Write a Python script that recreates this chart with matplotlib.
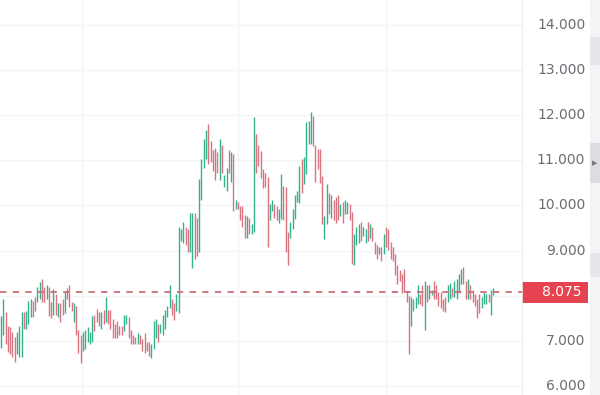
import matplotlib
matplotlib.use("Agg")
import matplotlib.pyplot as plt
from matplotlib.patches import Rectangle

# candle opens / closes (left to right)
opens = [
    6.87, 7.17, 7.60, 7.30, 7.28, 7.17, 7.06, 6.73, 6.68, 6.68,
    7.61, 7.30, 7.40, 7.55, 7.85, 7.95, 7.90, 7.95, 8.35, 8.17,
    7.95, 8.17, 7.84, 7.60, 8.00, 7.55, 7.80, 7.90, 7.65, 8.15,
    8.20, 7.84, 7.45, 7.75, 7.20, 7.10, 6.80, 6.85, 7.00,
    6.95, 7.00, 7.55, 7.68, 7.60, 7.30, 7.65, 7.45, 7.65, 7.65,
    7.45, 7.35, 7.40, 7.30, 7.30, 7.25, 7.40, 7.50, 7.20, 7.10,
    7.05, 6.95, 7.10, 7.00, 7.15, 6.95, 6.95, 6.65, 6.85, 7.10,
    7.35, 7.20, 7.15, 7.30, 7.55, 7.75, 7.90, 7.80,
    7.70, 7.65, 9.25, 9.20, 9.50, 9.45, 9.00, 8.65, 9.80, 9.70,
    9.00, 10.15, 10.85, 11.05, 11.78, 11.40, 11.20, 11.25, 11.15, 10.60,
    11.30, 10.45, 10.35, 11.20, 10.55, 11.10, 9.95, 10.05, 9.95, 9.95,
    9.75, 9.30, 9.70, 9.40, 9.45, 11.56,
    11.30, 11.18, 10.78, 10.70, 10.61, 9.70, 9.90, 10.00, 9.95, 9.65,
    9.74, 10.40, 10.39, 9.39, 9.30, 9.50, 9.74, 10.10, 10.08, 11.00,
    10.50, 10.72, 11.40, 11.40, 11.95, 11.30, 11.23, 11.23, 10.63, 9.28,
    9.61, 10.25, 9.75, 10.10, 10.15,
    10.20, 9.80, 10.05, 9.85, 9.85, 10.00, 9.83, 8.72, 9.15, 9.20,
    9.60, 9.35, 9.20, 9.60, 9.30, 9.50, 9.15, 9.10, 8.95, 9.05,
    8.95, 9.50, 9.45, 9.15, 9.05, 8.90, 8.65, 8.55, 8.45, 8.57,
    8.08, 7.97, 7.35, 7.70, 7.75,
    7.85, 8.00, 8.20, 7.28, 8.20, 7.95, 8.05, 8.30, 8.20, 8.05,
    8.05, 7.90, 7.95, 7.90, 7.95, 8.15, 8.00, 7.95, 8.10, 8.28,
    8.61, 8.30, 7.95, 8.20, 8.10, 8.00, 7.90, 8.00, 7.75, 7.85,
    7.85, 8.00, 7.61, 8.05,
]
closes = [
    7.53, 7.90, 6.97, 6.79, 6.73, 6.68, 6.57, 7.17, 7.30, 7.61,
    7.30, 7.63, 7.85, 7.90, 7.55, 7.70, 8.17, 8.28, 7.90, 7.90,
    8.20, 7.57, 7.53, 8.12, 7.60, 7.80, 7.45, 7.60, 8.05, 7.95,
    7.79, 7.70, 7.80, 7.17, 6.75, 6.53, 7.17, 7.20, 7.28,
    7.17, 7.53, 7.25, 7.45, 7.35, 7.60, 7.40, 7.95, 7.40, 7.30,
    7.10, 7.10, 7.10, 7.15, 7.15, 7.55, 7.55, 7.10, 6.95, 6.95,
    6.95, 7.15, 6.95, 6.80, 6.75, 6.80, 6.70, 6.90, 7.40, 7.45,
    7.00, 7.35, 7.55, 7.65, 7.75, 8.20, 7.60, 7.50,
    8.00, 9.50, 9.45, 9.60, 9.15, 9.00, 9.80, 9.80, 8.85, 8.90,
    10.55, 11.00, 11.45, 11.65, 10.95, 11.00, 10.80, 10.60, 10.75, 11.45,
    10.75, 10.65, 10.80, 10.75, 11.15, 9.90, 10.10, 9.95, 9.70, 9.55,
    9.30, 9.74, 9.40, 9.55, 11.94, 10.74,
    10.90, 10.63, 10.41, 10.45, 9.12, 10.00, 10.10, 9.75, 9.70, 9.90,
    10.67, 9.70, 9.00, 8.72, 9.60, 9.90, 10.20, 10.30, 10.85, 10.30,
    11.05, 11.83, 11.85, 12.05, 11.35, 10.55, 10.83, 10.52, 9.63, 9.74,
    10.45, 9.85, 10.20, 9.70, 9.65,
    9.70, 10.00, 9.65, 10.10, 10.05, 9.70, 8.74, 9.34, 9.50, 9.55,
    9.25, 9.50, 9.45, 9.25, 9.55, 9.25, 8.95, 8.85, 9.05, 8.80,
    9.34, 9.10, 9.05, 8.85, 8.80, 8.50, 8.30, 8.35, 8.10, 8.12,
    7.90, 6.73, 7.95, 7.90, 7.95,
    8.20, 7.85, 7.80, 8.30, 7.90, 8.20, 8.10, 7.95, 7.95, 7.80,
    7.75, 7.70, 7.68, 8.20, 8.25, 8.00, 8.30, 8.35, 8.45, 8.57,
    8.30, 7.95, 8.35, 7.95, 7.90, 7.80, 7.53, 7.65, 7.95, 8.05,
    8.00, 7.90, 8.10, 8.15,
]
last_price = 8.075
y_ticks = [6, 7, 8, 9, 10, 11, 12, 13, 14]
y_labels = ["6.000", "7.000", "", "9.000", "10.000", "11.000", "12.000", "13.000", "14.000"]

UP = "#34b28e"
DOWN = "#d8737f"

fig = plt.figure(figsize=(6, 3.95), dpi=100)
fig.patch.set_facecolor("white")
ax = fig.add_axes([0, 0, 522 / 600, 1])
ax.set_xlim(-0.45, 228.7)
ax.set_ylim(5.80, 14.554)

for spine in ax.spines.values():
    spine.set_visible(False)
ax.set_xticks([35.5, 104.0, 169.0])
ax.set_xticklabels([])
ax.set_yticks(y_ticks)
ax.set_yticklabels([])
ax.tick_params(length=0)
ax.grid(True, color="#f3f4f6", linewidth=1.0)
ax.set_axisbelow(True)

for i, (o, c) in enumerate(zip(opens, closes)):
    col = UP if c >= o else DOWN
    ax.vlines(i, min(o, c) - 0.03, max(o, c) + 0.03, color=col, linewidth=1.0)

ax.axhline(last_price, color="#c9707a", linewidth=1.3, dashes=(3.5, 3.5))

# right price scale
sax = fig.add_axes([522 / 600, 0, 68 / 600, 1], sharey=ax)
sax.set_xlim(0, 1)
sax.axis("off")
sax.axvline(0, color="#e8e9ec", linewidth=1.2)
for v, lab in zip(y_ticks, y_labels):
    if lab:
        sax.text(0.93, v, lab, ha="right", va="center", fontsize=10,
                 color="#6a6d72", family="DejaVu Sans")
sax.add_patch(Rectangle((0.0, last_price - 0.24), 0.97, 0.48,
                        facecolor="#e5434f", edgecolor="none"))
sax.text(0.88, last_price, "8.075", ha="right", va="center", fontsize=10,
         color="white", family="DejaVu Sans")

# thin grey strip at the far right with a collapse tab
tax = fig.add_axes([590 / 600, 0, 10 / 600, 1])
tax.set_xlim(0, 1)
tax.set_ylim(0, 395)
tax.axis("off")
tax.add_patch(Rectangle((0, 0), 1, 395, facecolor="#f3f4f6", edgecolor="none"))
tax.add_patch(Rectangle((0, 212), 1, 40, facecolor="#dcdde0", edgecolor="none"))
tax.add_patch(Rectangle((0, 330), 1, 28, facecolor="#e6e7ea", edgecolor="none"))
tax.add_patch(Rectangle((0, 118), 1, 24, facecolor="#e6e7ea", edgecolor="none"))
tax.text(0.45, 232, "\u25b6", ha="center", va="center", fontsize=5, color="#777777")

fig.savefig("out.png", dpi=100)
